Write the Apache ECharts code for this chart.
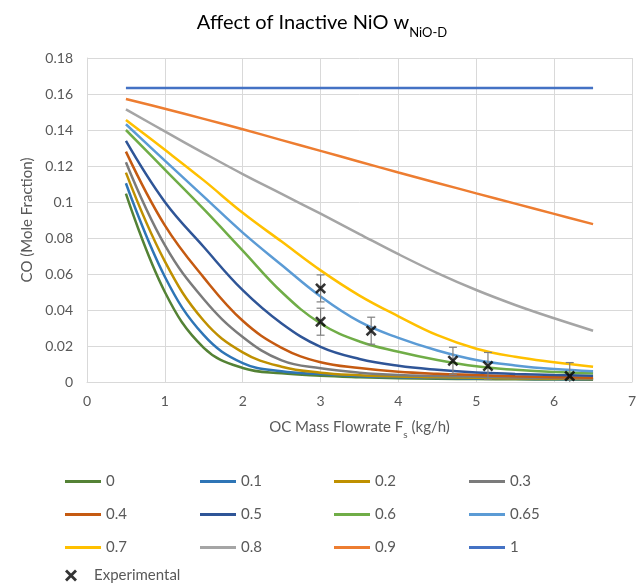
<!DOCTYPE html>
<html lang="en">
<head>
<meta charset="UTF-8">
<title>Affect of Inactive NiO</title>
<script src="https://cdn.jsdelivr.net/npm/echarts@6/dist/echarts.min.js"></script>
<style>
    html, body { margin: 0; padding: 0; background: #fff; }
    #main { width: 644px; height: 586px; }
</style>
</head>
<body>
<div id="main"></div>
<script type="text/javascript">
    // OC mass flowrate (kg/h) where the model curves are sampled
    var flowrate = [0.5, 1, 1.5, 2, 2.5, 3, 3.5, 4, 4.5, 5, 5.5, 6, 6.5];

    // CO mole fraction for each w_NiO-D
    var w0   = [0.1046, 0.050, 0.019, 0.0078, 0.0048, 0.0035, 0.0027, 0.0021, 0.0018, 0.0016, 0.0015, 0.0014, 0.0013];
    var w01  = [0.1104, 0.0585, 0.026, 0.0105, 0.0060, 0.0044, 0.0032, 0.0026, 0.0022, 0.0020, 0.0018, 0.0016, 0.0015];
    var w02  = [0.1163, 0.067, 0.034, 0.0165, 0.0085, 0.0052, 0.0038, 0.0030, 0.0026, 0.0023, 0.0020, 0.0018, 0.0017];
    var w03  = [0.1221, 0.076, 0.046, 0.025, 0.012, 0.0076, 0.0052, 0.0039, 0.0034, 0.0030, 0.0025, 0.0022, 0.0020];
    var w04  = [0.128, 0.087, 0.058, 0.034, 0.019, 0.011, 0.0078, 0.0057, 0.0046, 0.0039, 0.0032, 0.0027, 0.0024];
    var w05  = [0.1339, 0.100, 0.075, 0.051, 0.0325, 0.0195, 0.0128, 0.0090, 0.0068, 0.0053, 0.0045, 0.0039, 0.0035];
    var w06  = [0.140, 0.118, 0.096, 0.073, 0.0500, 0.0325, 0.0225, 0.0168, 0.0122, 0.0087, 0.0068, 0.0055, 0.0048];
    var w065 = [0.1432, 0.123, 0.103, 0.083, 0.0650, 0.0475, 0.0335, 0.0245, 0.0175, 0.0122, 0.0092, 0.0072, 0.0060];
    var w07  = [0.1456, 0.129, 0.112, 0.094, 0.078, 0.062, 0.048, 0.0365, 0.026, 0.0185, 0.0140, 0.0110, 0.0085];
    var w08  = [0.1515, 0.1392, 0.1272, 0.1155, 0.1045, 0.0935, 0.0822, 0.0710, 0.0605, 0.0511, 0.0428, 0.0354, 0.0285];
    var w09  = [0.1572, 0.1518, 0.1462, 0.1404, 0.1344, 0.1284, 0.1224, 0.1164, 0.1106, 0.1048, 0.0991, 0.0934, 0.0877];
    var w1   = [0.1633, 0.1633, 0.1633, 0.1633, 0.1633, 0.1633, 0.1633, 0.1633, 0.1633, 0.1633, 0.1633, 0.1633, 0.1633];

    var seriesNames = ['0', '0.1', '0.2', '0.3', '0.4', '0.5', '0.6', '0.65', '0.7', '0.8', '0.9', '1'];
    var seriesData = [w0, w01, w02, w03, w04, w05, w06, w065, w07, w08, w09, w1];
    var seriesColors = ['#548235', '#2E75B6', '#BF9000', '#7B7B7B', '#C55A11', '#2F5597',
                        '#70AD47', '#5B9BD5', '#FFC000', '#A5A5A5', '#ED7D31', '#4472C4'];

    // experimental points with error bars
    var expX = [3, 3, 3.65, 4.7, 5.15, 6.2];
    var expY = [0.052, 0.0335, 0.0285, 0.0118, 0.0089, 0.0033];
    var expErr = [0.0075, 0.0075, 0.0075, 0.0075, 0.0075, 0.0075];

    var xTicks = [0, 7, 1];       // min, max, interval
    var yTicks = [0, 0.18, 0.02];

    var FONT = 'Lato';
    var GREY = '#595959';
    var crossPath = 'path://M0,2 L2,0 L6,4 L10,0 L12,2 L8,6 L12,10 L10,12 L6,8 L2,12 L0,10 L4,6 Z';

    var myChart = echarts.init(document.getElementById('main'));

    var series = [];
    for (var i = 0; i < seriesNames.length; i++) {
        var pts = [];
        for (var j = 0; j < flowrate.length; j++) {
            pts.push([flowrate[j], seriesData[i][j]]);
        }
        series.push({
            name: seriesNames[i],
            type: 'line',
            data: pts,
            symbol: 'none',
            smooth: 0.4,
            color: seriesColors[i],
            lineStyle: { width: 2.5, color: seriesColors[i] },
            z: 2
        });
    }

    var errData = [];
    var expData = [];
    for (var k = 0; k < expX.length; k++) {
        errData.push([expX[k], expY[k] - expErr[k], expY[k] + expErr[k]]);
        expData.push([expX[k], expY[k]]);
    }

    series.push({
        name: 'errbars',
        type: 'custom',
        data: errData,
        clip: true,
        z: 3,
        renderItem: function (params, api) {
            var lo = api.coord([api.value(0), api.value(1)]);
            var hi = api.coord([api.value(0), api.value(2)]);
            var cap = 4;
            var st = { stroke: '#7F7F7F', lineWidth: 1.2 };
            return {
                type: 'group',
                children: [
                    { type: 'line', shape: { x1: hi[0], y1: hi[1], x2: lo[0], y2: lo[1] }, style: st },
                    { type: 'line', shape: { x1: hi[0] - cap, y1: hi[1], x2: hi[0] + cap, y2: hi[1] }, style: st },
                    { type: 'line', shape: { x1: lo[0] - cap, y1: lo[1], x2: lo[0] + cap, y2: lo[1] }, style: st }
                ]
            };
        }
    });

    series.push({
        name: 'Experimental',
        type: 'scatter',
        data: expData,
        symbol: crossPath,
        symbolSize: 11,
        itemStyle: { color: '#000' },
        z: 4
    });

    function colLegend(left, names) {
        var items = [];
        for (var n = 0; n < names.length; n++) {
            items.push({ name: names[n], icon: 'rect' });
        }
        return {
            orient: 'vertical',
            left: left,
            top: 468,
            itemWidth: 36,
            itemHeight: 3,
            itemGap: 16,
            data: items,
            textStyle: { fontFamily: FONT, fontSize: 15, color: GREY, lineHeight: 17 }
        };
    }

    var option = {
        animation: false,
        backgroundColor: '#fff',
        title: {
            text: '{a|Affect of Inactive NiO w}{s|NiO-D}',
            left: 'center',
            top: 8,
            textStyle: {
                rich: {
                    a: { fontFamily: FONT, fontSize: 20, fontWeight: 'normal', color: '#000', lineHeight: 24, verticalAlign: 'top' },
                    s: { fontFamily: FONT, fontSize: 13, fontWeight: 'normal', color: '#000', lineHeight: 13, padding: [13, 0, 0, 0], verticalAlign: 'top' }
                }
            }
        },
        grid: { left: 87, right: 12, top: 58, bottom: 204 },
        legend: [
            colLegend(60, ['0', '0.4', '0.7']),
            colLegend(195, ['0.1', '0.5', '0.8']),
            colLegend(329, ['0.2', '0.6', '0.9']),
            colLegend(464, ['0.3', '0.65', '1']),
            {
                left: 60,
                top: 563,
                itemWidth: 36,
                itemHeight: 12,
                data: [{ name: 'Experimental', icon: crossPath }],
                textStyle: { fontFamily: FONT, fontSize: 15, color: GREY }
            }
        ],
        xAxis: {
            type: 'value',
            min: xTicks[0],
            max: xTicks[1],
            interval: xTicks[2],
            name: '{a|OC Mass Flowrate F}{s|s}{a| (kg/h)}',
            nameLocation: 'middle',
            nameGap: 38,
            nameTextStyle: {
                rich: {
                    a: { fontFamily: FONT, fontSize: 15, color: GREY, lineHeight: 18, verticalAlign: 'top' },
                    s: { fontFamily: FONT, fontSize: 10, color: GREY, lineHeight: 10, padding: [10, 0, 0, 0], verticalAlign: 'top' }
                }
            },
            axisLine: { lineStyle: { color: '#D9D9D9' } },
            axisTick: { show: false },
            axisLabel: { fontFamily: FONT, fontSize: 14, color: GREY, margin: 12 },
            splitLine: { lineStyle: { color: '#D9D9D9', width: 1 } }
        },
        yAxis: {
            type: 'value',
            min: yTicks[0],
            max: yTicks[1],
            interval: yTicks[2],
            name: 'CO (Mole Fraction)',
            nameLocation: 'middle',
            nameGap: 52,
            nameTextStyle: { fontFamily: FONT, fontSize: 15, color: GREY },
            axisLine: { show: true, lineStyle: { color: '#D9D9D9' } },
            axisTick: { show: false },
            axisLabel: { fontFamily: FONT, fontSize: 14, color: GREY, margin: 14 },
            splitLine: { lineStyle: { color: '#D9D9D9', width: 1 } }
        },
        series: series
    };

    myChart.setOption(option);
</script>
</body>
</html>
